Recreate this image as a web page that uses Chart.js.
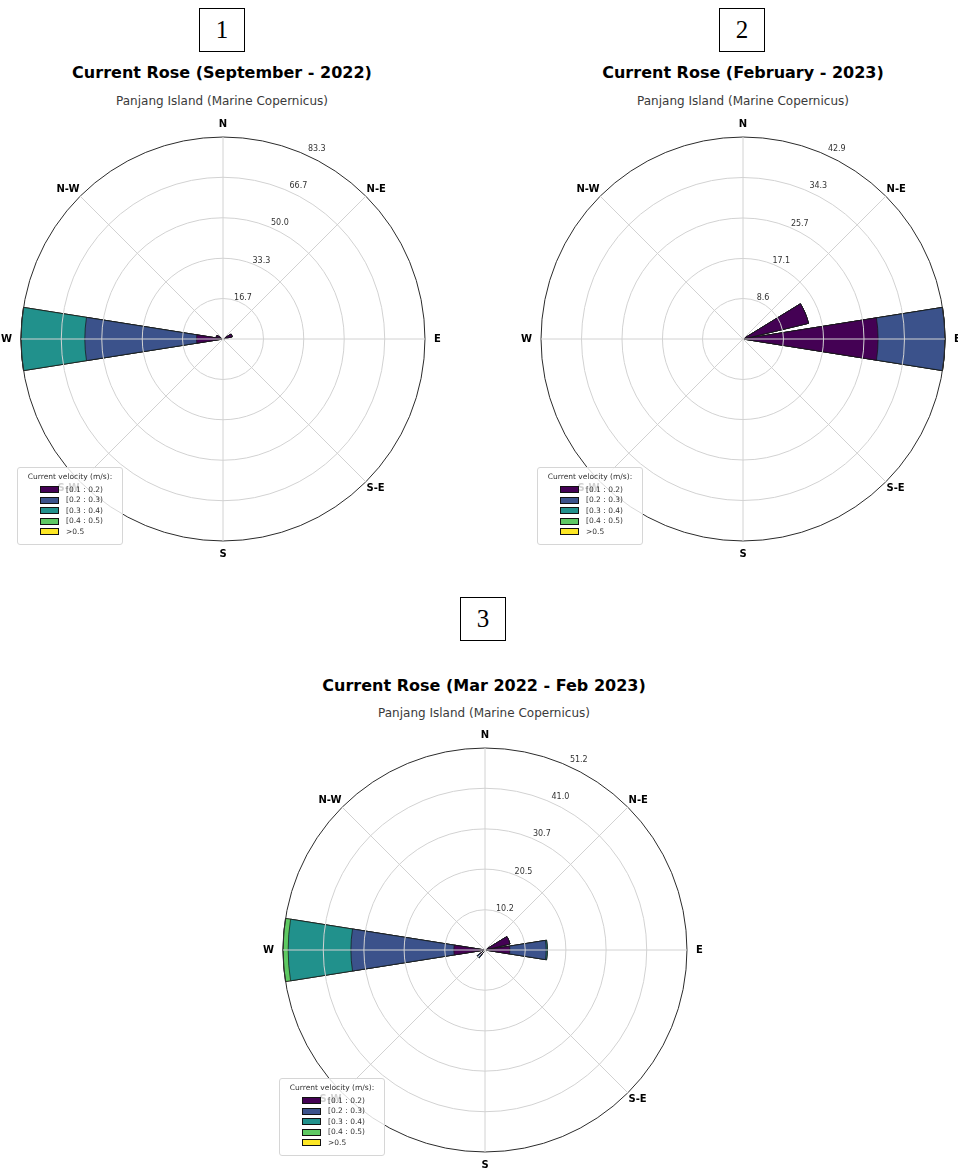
<!DOCTYPE html>
<html>
<head>
<meta charset="utf-8">
<script src="https://cdn.jsdelivr.net/npm/chart.js@4.4.0/dist/chart.umd.min.js"></script>
<style>
  html, body { margin: 0; padding: 0; background: #fff; }
  body { width: 958px; height: 1171px; overflow: hidden; position: relative; font-family: "DejaVu Sans", sans-serif; }
  .num { position: absolute; width: 44px; height: 42px; border: 1px solid #000; font-family: "Liberation Serif", serif;
         font-size: 25px; line-height: 42px; text-align: center; color: #000; }
  .ttl { position: absolute; width: 460px; text-align: center; font-weight: bold; font-size: 16px; line-height: 18px; color: #000; }
  .sub { position: absolute; width: 460px; text-align: center; font-size: 12px; line-height: 14px; color: #3a3a3a; }
  canvas { position: absolute; }
  .lg { position: absolute; width: 106px; height: 78px; box-sizing: border-box; border: 1px solid #d6d6d6; border-radius: 3px;
        background: rgba(255,255,255,0.82); font-size: 7.5px; color: #333; }
  .lg .lt { position: absolute; left: 0; width: 104px; top: 4px; text-align: center; }
  .lg .sw { position: absolute; left: 22px; width: 17px; height: 5px; border: 0.8px solid #111; }
  .lg .tx { position: absolute; left: 48px; line-height: 9px; }
</style>
</head>
<body>

<div class="num" style="left:199px;top:8px;">1</div>
<div class="ttl" style="left:-8px;top:64px;">Current Rose (September - 2022)</div>
<div class="sub" style="left:-8px;top:94px;">Panjang Island (Marine Copernicus)</div>
<canvas id="rose1" width="444" height="444"></canvas>
<div class="lg" id="leg1"></div>

<div class="num" style="left:719px;top:8px;">2</div>
<div class="ttl" style="left:513px;top:64px;">Current Rose (February - 2023)</div>
<div class="sub" style="left:513px;top:94px;">Panjang Island (Marine Copernicus)</div>
<canvas id="rose2" width="444" height="444"></canvas>
<div class="lg" id="leg2"></div>

<div class="num" style="left:460px;top:597px;">3</div>
<div class="ttl" style="left:254px;top:677px;">Current Rose (Mar 2022 - Feb 2023)</div>
<div class="sub" style="left:254px;top:706px;">Panjang Island (Marine Copernicus)</div>
<canvas id="rose3" width="444" height="444"></canvas>
<div class="lg" id="leg3"></div>

<script>
// 16 sectors, clockwise from North
const directions = ["N", "NNE", "NE", "ENE", "E", "ESE", "SE", "SSE", "S", "SSW", "SW", "WSW", "W", "WNW", "NW", "NNW"];
const compassLabels = ["N", "N-E", "E", "S-E", "S", "S-W", "W", "N-W"];

const binLabels = ["[0.1 : 0.2)", "[0.2 : 0.3)", "[0.3 : 0.4)", "[0.4 : 0.5)", ">0.5"];
const binColors = ["#440154", "#3b528b", "#21918c", "#5ec962", "#fde725"];

// frequency (%) per velocity bin — September 2022
const sepBin1 = [0, 0, 0, 3.9, 0, 0, 0, 0, 0, 0, 0, 0, 10.9, 2.9, 0, 0];
const sepBin2 = [0, 0, 0, 0, 0, 0, 0, 0, 0, 0, 0, 0, 46.1, 0, 0, 0];
const sepBin3 = [0, 0, 0, 0, 0, 0, 0, 0, 0, 0, 0, 0, 26.3, 0, 0, 0];
const sepBin4 = [0, 0, 0, 0, 0, 0, 0, 0, 0, 0, 0, 0, 0, 0, 0, 0];
const sepBin5 = [0, 0, 0, 0, 0, 0, 0, 0, 0, 0, 0, 0, 0, 0, 0, 0];
const sepTicks = [16.7, 33.3, 50.0, 66.7, 83.3];

// February 2023
const febBin1 = [0, 0, 0, 14.3, 28.7, 0, 0, 0, 0, 0, 0, 0, 0, 0, 0, 0];
const febBin2 = [0, 0, 0, 0, 14.2, 0, 0, 0, 0, 0, 0, 0, 0, 0, 0, 0];
const febBin3 = [0, 0, 0, 0, 0, 0, 0, 0, 0, 0, 0, 0, 0, 0, 0, 0];
const febBin4 = [0, 0, 0, 0, 0, 0, 0, 0, 0, 0, 0, 0, 0, 0, 0, 0];
const febBin5 = [0, 0, 0, 0, 0, 0, 0, 0, 0, 0, 0, 0, 0, 0, 0, 0];
const febTicks = [8.6, 17.1, 25.7, 34.3, 42.9];

// Mar 2022 - Feb 2023
const yrBin1 = [0, 0, 0, 6.5, 6.3, 0, 0, 0, 0, 0, 1.6, 0, 7.9, 0, 0, 0];
const yrBin2 = [0, 0, 0, 0, 9.2, 0, 0, 0, 0, 0, 0.8, 0, 26.1, 0, 0, 0];
const yrBin3 = [0, 0, 0, 0, 0.3, 0, 0, 0, 0, 0, 0, 0, 15.9, 0, 0, 0];
const yrBin4 = [0, 0, 0, 0, 0, 0, 0, 0, 0, 0, 0, 0, 1.3, 0, 0, 0];
const yrBin5 = [0, 0, 0, 0, 0, 0, 0, 0, 0, 0, 0, 0, 0, 0, 0, 0];
const yrTicks = [10.2, 20.5, 30.7, 41.0, 51.2];

Chart.defaults.font.family = "DejaVu Sans";

// bars cover 80% of each 22.5° sector; N is split in two halves so the grid keeps its 0° start
const BAR = 18, GAP = 4.5;
const slotAngles = [BAR / 2];
for (let i = 1; i < 16; i++) slotAngles.push(GAP, BAR);
slotAngles.push(GAP, BAR / 2);

function toSlots(vals) {
    const out = [vals[0]];
    for (let i = 1; i < 16; i++) out.push(0, vals[i]);
    out.push(0, vals[0]);
    return out;
}

// compass label gap: diagonals sit closer since chart.js anchors them by the corner
const labelPad = [7, 1, 9, 1, 7, 1, 9, 1];

// draws the radius labels off the north axis like matplotlib does
const radiusLabels = {
    id: "radiusLabels",
    afterDraw(chart) {
        const s = chart.scales.r;
        const ctx = chart.ctx;
        ctx.save();
        ctx.font = "8px 'DejaVu Sans'";
        ctx.fillStyle = "#333";
        ctx.textAlign = "center";
        ctx.textBaseline = "middle";
        s.ticks.slice(1).forEach(t => {
            const d = s.getDistanceFromCenterForValue(t.value);
            ctx.fillText(t.value.toFixed(1), s.xCenter + 0.457 * d + 1.5, s.yCenter - 0.926 * d - 3.5);
        });
        ctx.restore();
    }
};

function makeRose(canvasId, legendId, cx, cy, bins, ticks) {
    const canvas = document.getElementById(canvasId);
    canvas.style.left = (cx - 223) + "px";
    canvas.style.top = (cy - 222) + "px";

    // polar area arcs all start at the centre, so stack them as running totals
    let run = new Array(16).fill(0);
    const datasets = bins.map((b, k) => {
        run = run.map((v, i) => v + b[i]);
        return {
            label: binLabels[k],
            data: toSlots(run),
            backgroundColor: binColors[k],
            borderColor: "#141414",
            borderWidth: c => (c.raw > 0 ? 0.7 : 0),
            angle: c => slotAngles[c.dataIndex]
        };
    });

    new Chart(canvas, {
        type: "polarArea",
        data: { labels: toSlots(directions), datasets },
        options: {
            responsive: false,
            animation: false,
            layout: { padding: 0 },
            plugins: { legend: { display: false }, tooltip: { enabled: false } },
            scales: {
                r: {
                    min: 0,
                    max: ticks[ticks.length - 1],
                    startAngle: 0,
                    labels: compassLabels,
                    afterBuildTicks: s => { s.ticks = [0, ...ticks].map(v => ({ value: v })); },
                    ticks: { display: false },
                    grid: {
                        z: 1,
                        circular: true,
                        lineWidth: 1,
                        color: c => (c.index === ticks.length ? "#2b2b2b" : "#d2d2d2")
                    },
                    angleLines: { display: true, color: "#d2d2d2", lineWidth: 1 },
                    pointLabels: {
                        display: true,
                        padding: c => labelPad[c.index],
                        color: "#000",
                        font: { size: 10, weight: "bold" }
                    }
                }
            }
        },
        plugins: [radiusLabels]
    });

    // legend box (matplotlib style, sits over the plot)
    const lg = document.getElementById(legendId);
    lg.style.left = (cx - 205) + "px";
    lg.style.top = (cy + 128) + "px";
    let html = '<div class="lt">Current velocity (m/s):</div>';
    binLabels.forEach((t, k) => {
        const y = 18 + k * 10.5;
        html += `<div class="sw" style="top:${y}px;background:${binColors[k]}"></div>`;
        html += `<div class="tx" style="top:${y - 1.5}px">${t}</div>`;
    });
    lg.innerHTML = html;
}

makeRose("rose1", "leg1", 222, 339, [sepBin1, sepBin2, sepBin3, sepBin4, sepBin5], sepTicks);
makeRose("rose2", "leg2", 742, 339, [febBin1, febBin2, febBin3, febBin4, febBin5], febTicks);
makeRose("rose3", "leg3", 484, 950, [yrBin1, yrBin2, yrBin3, yrBin4, yrBin5], yrTicks);
</script>
</body>
</html>
